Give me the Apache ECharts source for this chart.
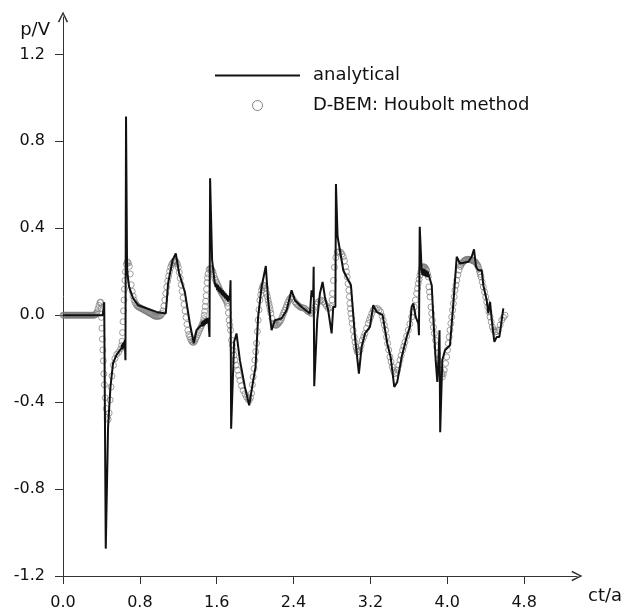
<!DOCTYPE html>
<html>
<head>
<meta charset="utf-8">
<script src="https://cdn.jsdelivr.net/npm/echarts@6/dist/echarts.min.js"></script>
<style>html,body{margin:0;padding:0;background:#fff}#c{width:630px;height:611px}</style>
</head>
<body>
<div id="c"></div>
<script>
const xTicks = [0, 0.8, 1.6, 2.4, 3.2, 4.0, 4.8];
const yTicks = [-1.2, -0.8, -0.4, 0, 0.4, 0.8, 1.2];
const seriesNames = ['analytical', 'D-BEM: Houbolt method'];

const analytical = [
[0,0],[0.414,0],[0.429,0.06],[0.445,-1.074],[0.469,-0.515],[0.494,-0.33],[0.521,-0.221],[0.556,-0.184],
[0.608,-0.152],[0.614,-0.135],[0.619,-0.158],[0.624,-0.128],[0.629,-0.150],[0.634,-0.122],[0.639,-0.142],
[0.643,-0.115],[0.65,-0.207],[0.656,0.914],[0.667,0.207],[0.688,0.13],[0.729,0.078],
[0.781,0.046],[0.869,0.032],[0.973,0.015],[1.07,0.008],[1.094,0.147],[1.14,0.253],[1.174,0.284],
[1.208,0.194],[1.268,0.107],[1.32,-0.037],[1.361,-0.129],[1.39,-0.069],[1.406,-0.069],[1.44,-0.045],
[1.448,-0.030],[1.454,-0.052],[1.460,-0.025],[1.466,-0.048],[1.472,-0.020],[1.478,-0.044],[1.484,-0.016],
[1.490,-0.040],[1.496,-0.014],[1.502,-0.036],[1.508,-0.012],[1.515,-0.035],
[1.525,-0.1],[1.531,0.63],[1.552,0.253],[1.58,0.147],[1.59,0.13],[1.598,0.145],[1.606,0.115],[1.614,0.138],
[1.622,0.108],[1.630,0.130],[1.638,0.100],[1.646,0.122],[1.654,0.092],[1.662,0.115],[1.670,0.085],
[1.678,0.108],[1.686,0.078],[1.694,0.100],[1.702,0.070],[1.710,0.094],[1.718,0.062],[1.726,0.088],
[1.736,0.069],[1.744,0.161],[1.75,-0.522],[1.781,-0.123],[1.806,-0.084],[1.841,-0.207],[1.893,-0.33],
[1.938,-0.415],[1.969,-0.33],[2.004,-0.238],[2.031,-0.008],[2.067,0.13],[2.111,0.226],[2.135,0.069],
[2.171,-0.069],[2.205,-0.023],[2.275,-0.015],[2.327,0.023],[2.379,0.115],[2.414,0.069],[2.483,0.038],
[2.57,0.008],[2.587,0.115],[2.604,0.084],[2.609,0.223],[2.615,-0.327],[2.646,-0.023],[2.674,0.1],
[2.702,0.153],[2.726,0.084],[2.76,0.023],[2.796,-0.084],[2.813,0.038],[2.835,0.038],[2.841,0.604],
[2.858,0.361],[2.882,0.3],[2.917,0.207],[2.952,0.176],[2.997,0.138],[3.039,-0.1],[3.08,-0.269],
[3.108,-0.146],[3.143,-0.084],[3.195,-0.054],[3.229,0.046],[3.265,0.015],[3.327,0],[3.375,-0.13],
[3.41,-0.192],[3.448,-0.33],[3.479,-0.307],[3.525,-0.192],[3.577,-0.1],[3.611,-0.054],[3.629,0.038],
[3.646,0.054],[3.671,-0.008],[3.698,-0.038],[3.705,-0.092],[3.713,0.407],[3.733,0.207],[3.742,0.185],
[3.748,0.215],[3.754,0.182],[3.760,0.212],[3.766,0.180],[3.772,0.208],[3.778,0.178],[3.784,0.205],
[3.790,0.175],[3.796,0.200],[3.802,0.192],
[3.838,0.138],[3.854,-0.008],[3.879,-0.207],[3.896,-0.307],[3.906,-0.223],[3.919,-0.069],
[3.926,-0.539],[3.948,-0.207],[3.976,-0.161],[4.028,-0.138],[4.063,0.054],[4.098,0.269],[4.132,0.238],
[4.219,0.246],[4.254,0.269],[4.278,0.303],[4.299,0.223],[4.323,0.207],[4.358,0.207],[4.375,0.138],
[4.41,0.069],[4.427,0.008],[4.445,0.061],[4.463,-0.023],[4.49,-0.123],[4.515,-0.1],[4.542,-0.1],[4.583,0.031]
];

const dbem = [
[0,0],[0.01,0],[0.02,0],[0.03,0],[0.04,0],[0.05,0],[0.06,0],[0.07,0],[0.08,0],[0.09,0],[0.1,0],[0.11,0],
[0.12,0],[0.13,0],[0.14,0],[0.15,0],[0.16,0],[0.17,0],[0.18,0],[0.19,0],[0.2,0],[0.21,0],[0.22,0],[0.23,0],
[0.24,0],[0.25,0],[0.26,0],[0.27,0],[0.28,0],[0.29,0],[0.3,0],[0.31,0],[0.32,0],[0.33,0],[0.34,0.003],
[0.347,0.008],[0.354,0.015],[0.365,0.03],[0.375,0.045],[0.385,0.058],[0.392,0.06],[0.397,0.03],[0.4,-0.01],[0.405,-0.06],
[0.41,-0.11],[0.415,-0.16],[0.42,-0.21],[0.425,-0.27],[0.43,-0.32],[0.44,-0.38],[0.45,-0.43],[0.46,-0.47],
[0.47,-0.48],[0.48,-0.45],[0.49,-0.39],[0.5,-0.33],[0.51,-0.28],[0.525,-0.23],[0.54,-0.2],[0.56,-0.18],
[0.58,-0.17],[0.6,-0.155],[0.61,-0.14],[0.615,-0.12],[0.62,-0.08],[0.625,-0.03],[0.63,0.02],[0.635,0.07],
[0.64,0.12],[0.645,0.16],[0.65,0.2],[0.66,0.235],[0.67,0.245],[0.68,0.24],[0.69,0.225],[0.7,0.19],
[0.71,0.14],[0.72,0.11],[0.73,0.088],[0.74,0.07],[0.75,0.058],[0.76,0.05],[0.77,0.044],[0.78,0.04],[0.79,0.037],[0.8,0.035],[0.81,0.032],[0.82,0.03],[0.83,0.028],[0.84,0.025],
[0.85,0.022],[0.86,0.02],[0.87,0.018],[0.88,0.015],[0.89,0.012],[0.9,0.01],[0.91,0.008],[0.92,0.005],[0.93,0.002],[0.94,0],[0.95,-0.003],[0.96,-0.005],[0.97,-0.005],[0.98,-0.005],[0.99,-0.005],[1.0,-0.005],
[1.01,-0.003],[1.02,0],[1.03,0.008],[1.04,0.02],[1.05,0.042],[1.06,0.07],[1.07,0.1],[1.08,0.13],[1.09,0.157],[1.1,0.18],[1.11,0.202],[1.12,0.22],[1.13,0.232],[1.14,0.24],[1.15,0.246],[1.16,0.25],[1.17,0.249],[1.18,0.245],
[1.19,0.235],[1.2,0.22],[1.21,0.197],[1.22,0.17],[1.23,0.14],[1.24,0.11],[1.25,0.08],[1.26,0.05],[1.27,0.02],[1.28,-0.01],[1.29,-0.042],[1.3,-0.07],[1.31,-0.088],[1.32,-0.1],[1.33,-0.112],[1.34,-0.12],
[1.35,-0.124],[1.36,-0.125],[1.37,-0.12],[1.38,-0.11],[1.39,-0.1],[1.4,-0.09],[1.41,-0.08],[1.42,-0.07],[1.43,-0.06],[1.44,-0.05],[1.45,-0.04],[1.46,-0.03],[1.465,-0.016],[1.47,0],[1.475,0.018],[1.48,0.04],
[1.485,0.064],[1.49,0.09],[1.495,0.12],[1.5,0.15],[1.505,0.172],[1.51,0.19],[1.52,0.21],[1.53,0.214],[1.54,0.215],[1.55,0.209],[1.56,0.2],[1.57,0.186],[1.58,0.17],[1.59,0.16],[1.6,0.15],[1.61,0.14],[1.62,0.13],
[1.63,0.12],[1.64,0.11],[1.65,0.102],[1.66,0.095],[1.67,0.088],[1.68,0.08],[1.69,0.072],[1.7,0.065],[1.708,0.055],[1.715,0.04],[1.722,0.01],[1.729,-0.023],[1.737,-0.046],[1.744,-0.069],[1.754,-0.115],
[1.762,-0.138],[1.771,-0.161],[1.78,-0.184],[1.789,-0.207],[1.803,-0.23],[1.817,-0.253],[1.829,-0.277],[1.841,-0.3],[1.858,-0.325],[1.875,-0.346],[1.893,-0.362],
[1.91,-0.376],[1.925,-0.386],[1.938,-0.392],[1.951,-0.38],[1.963,-0.359],[1.971,-0.32],[1.979,-0.284],
[1.988,-0.245],[1.997,-0.207],[2.006,-0.168],[2.015,-0.129],[2.023,-0.075],[2.031,-0.023],[2.04,0.025],
[2.049,0.069],[2.058,0.094],[2.067,0.115],[2.075,0.128],[2.083,0.138],[2.095,0.135],[2.108,0.124],[2.12,0.1],[2.128,0.085],[2.135,0.069],[2.143,0.054],[2.15,0.04],[2.157,0.025],
[2.164,0.009],[2.176,-0.015],[2.188,-0.037],[2.196,-0.042],[2.205,-0.045],[2.214,-0.046],[2.223,-0.046],[2.234,-0.042],[2.245,-0.036],[2.256,-0.03],[2.268,-0.023],[2.278,-0.012],
[2.288,0],[2.299,0.012],[2.309,0.023],[2.32,0.035],[2.33,0.046],[2.34,0.058],[2.351,0.069],[2.365,0.078],[2.379,0.084],[2.396,0.074],[2.414,0.061],[2.427,0.054],
[2.44,0.048],[2.453,0.043],[2.466,0.038],[2.478,0.036],[2.49,0.034],[2.504,0.033],[2.518,0.031],[2.535,0.023],[2.548,0.019],[2.56,0.015],[2.574,0.011],[2.588,0.008],[2.605,0.022],
[2.622,0.038],[2.64,0.05],[2.656,0.061],[2.675,0.066],[2.692,0.069],[2.71,0.062],[2.726,0.054],[2.743,0.042],
[2.76,0.031],[2.778,0.033],[2.79,0.04],[2.8,0.07],[2.805,0.1],[2.815,0.16],[2.825,0.22],[2.84,0.265],
[2.854,0.29],[2.872,0.292],[2.89,0.29],[2.904,0.281],[2.917,0.269],[2.93,0.25],[2.942,0.223],[2.95,0.2],[2.958,0.176],[2.967,0.145],
[2.976,0.115],[2.981,0.085],[2.986,0.054],[2.992,0.03],[2.997,0.008],[3.004,-0.015],[3.01,-0.038],[3.02,-0.07],[3.031,-0.1],[3.04,-0.125],[3.049,-0.146],[3.056,-0.158],
[3.063,-0.169],[3.077,-0.168],[3.091,-0.161],[3.103,-0.14],[3.115,-0.115],[3.13,-0.1],[3.143,-0.084],
[3.16,-0.06],[3.177,-0.038],[3.19,-0.022],[3.202,-0.008],[3.215,0.008],[3.229,0.023],[3.25,0.029],
[3.271,0.031],[3.29,0.024],[3.306,0.015],[3.32,-0.004],[3.333,-0.023],[3.345,-0.046],[3.358,-0.069],
[3.368,-0.1],[3.379,-0.13],[3.39,-0.16],[3.403,-0.192],[3.415,-0.215],[3.427,-0.238],[3.44,-0.255],
[3.455,-0.269],[3.47,-0.264],[3.483,-0.253],[3.495,-0.23],[3.507,-0.207],[3.52,-0.185],[3.535,-0.161],
[3.547,-0.143],[3.559,-0.124],[3.577,-0.096],[3.594,-0.069],[3.61,-0.04],[3.629,-0.008],[3.642,0.015],
[3.656,0.038],[3.668,0.07],[3.681,0.1],[3.69,0.123],[3.698,0.146],[3.707,0.165],[3.716,0.184],[3.725,0.2],
[3.733,0.215],[3.739,0.218],[3.745,0.22],[3.751,0.222],[3.757,0.223],[3.764,0.22],[3.771,0.217],[3.778,0.212],[3.785,0.207],[3.795,0.19],[3.802,0.176],[3.809,0.13],
[3.815,0.107],[3.82,0.084],[3.83,0.038],[3.837,0.008],[3.844,-0.023],[3.855,-0.055],[3.865,-0.084],
[3.878,-0.115],[3.89,-0.146],[3.898,-0.176],[3.906,-0.207],[3.918,-0.23],[3.931,-0.253],[3.94,-0.27],
[3.948,-0.284],[3.958,-0.27],[3.969,-0.253],[3.982,-0.222],[3.994,-0.192],[4.002,-0.16],[4.01,-0.13],
[4.02,-0.1],[4.028,-0.069],[4.037,-0.038],[4.046,-0.008],[4.055,0.023],[4.063,0.054],[4.072,0.085],
[4.08,0.115],[4.09,0.138],[4.098,0.161],[4.11,0.185],[4.122,0.207],[4.136,0.224],[4.143,0.232],[4.15,0.238],[4.158,0.242],[4.167,0.246],
[4.175,0.25],[4.184,0.253],[4.192,0.255],[4.2,0.256],[4.21,0.257],[4.219,0.257],[4.228,0.257],[4.236,0.256],[4.245,0.255],[4.254,0.253],[4.262,0.252],[4.27,0.25],[4.28,0.248],[4.289,0.246],[4.298,0.241],[4.306,0.236],
[4.315,0.23],[4.323,0.223],[4.33,0.212],[4.337,0.2],[4.344,0.188],[4.351,0.176],[4.363,0.153],[4.375,0.13],[4.388,0.107],[4.4,0.084],[4.41,0.061],
[4.421,0.038],[4.433,0.015],[4.445,-0.008],[4.457,-0.031],[4.469,-0.054],[4.483,-0.068],[4.497,-0.077],
[4.514,-0.075],[4.531,-0.069],[4.55,-0.045],[4.567,-0.023],[4.585,-0.01],[4.601,0]
];

const FONT = 'DejaVu Sans, sans-serif';
const arrow = 'path://M0,10 L5,0 L10,10 L8.6,10.7 L5,3 L1.4,10.7 Z';
const lineIcon = 'path://M0,0 L85,0 L85,2 L0,2 Z';
const axisCol = '#333';

const chart = echarts.init(document.getElementById('c'), null, {renderer: 'canvas'});
chart.setOption({
  animation: false,
  backgroundColor: '#fff',
  grid: {left: 63, right: 53, top: 17, bottom: 35, containLabel: false},
  legend: {
    left: 210, top: 60, orient: 'vertical',
    itemWidth: 85, itemHeight: 10, itemGap: 9,
    textStyle: {fontFamily: FONT, fontSize: 18, color: '#111', lineHeight: 21, padding: [0, 0, 0, 8]},
    data: [
      {name: seriesNames[0], icon: lineIcon, itemStyle: {color: '#111'}},
      {name: seriesNames[1], icon: 'circle',
       itemStyle: {color: 'rgba(0,0,0,0)', borderColor: '#666', borderWidth: 1}}
    ]
  },
  xAxis: {
    type: 'value', min: 0, max: 5.35, interval: 0.8,
    name: 'ct/a', nameLocation: 'end', nameGap: 11,
    nameTextStyle: {fontFamily: FONT, fontSize: 18, color: '#111', align: 'left', verticalAlign: 'top', padding: [11, 0, 0, 0]},
    axisLine: {show: true, onZero: false, symbol: ['none', arrow], symbolSize: [11, 11],
      lineStyle: {color: axisCol, width: 1}},
    axisTick: {show: true, length: 8, inside: false, customValues: xTicks, lineStyle: {color: axisCol}},
    axisLabel: {customValues: xTicks, margin: 19, fontFamily: FONT, fontSize: 16, color: '#111',
      formatter: v => v.toFixed(1)},
    splitLine: {show: false}
  },
  yAxis: {
    type: 'value', min: -1.2, max: 1.372, interval: 0.4,
    name: 'p/V', nameLocation: 'end', nameGap: -13,
    nameTextStyle: {fontFamily: FONT, fontSize: 18, color: '#111', align: 'right', verticalAlign: 'middle', padding: [0, 13, 0, 0]},
    axisLine: {show: true, onZero: false, symbol: ['none', arrow], symbolSize: [11, 11],
      lineStyle: {color: axisCol, width: 1}},
    axisTick: {show: true, length: 8, inside: false, customValues: yTicks, lineStyle: {color: axisCol}},
    axisLabel: {customValues: yTicks, margin: 18, fontFamily: FONT, fontSize: 16, color: '#111',
      formatter: v => v.toFixed(1)},
    splitLine: {show: false}
  },
  series: [
    {
      name: seriesNames[1], type: 'scatter', data: dbem, z: 2,
      symbol: 'circle', symbolSize: 6,
      itemStyle: {color: 'rgba(0,0,0,0)', borderColor: '#7a7a7a', borderWidth: 0.9},
      emphasis: {disabled: true}
    },
    {
      name: seriesNames[0], type: 'line', data: analytical, z: 3,
      symbol: 'none', showSymbol: false,
      lineStyle: {color: '#111', width: 2},
      itemStyle: {color: '#111'},
      emphasis: {disabled: true}
    }
  ]
});
</script>
</body>
</html>
